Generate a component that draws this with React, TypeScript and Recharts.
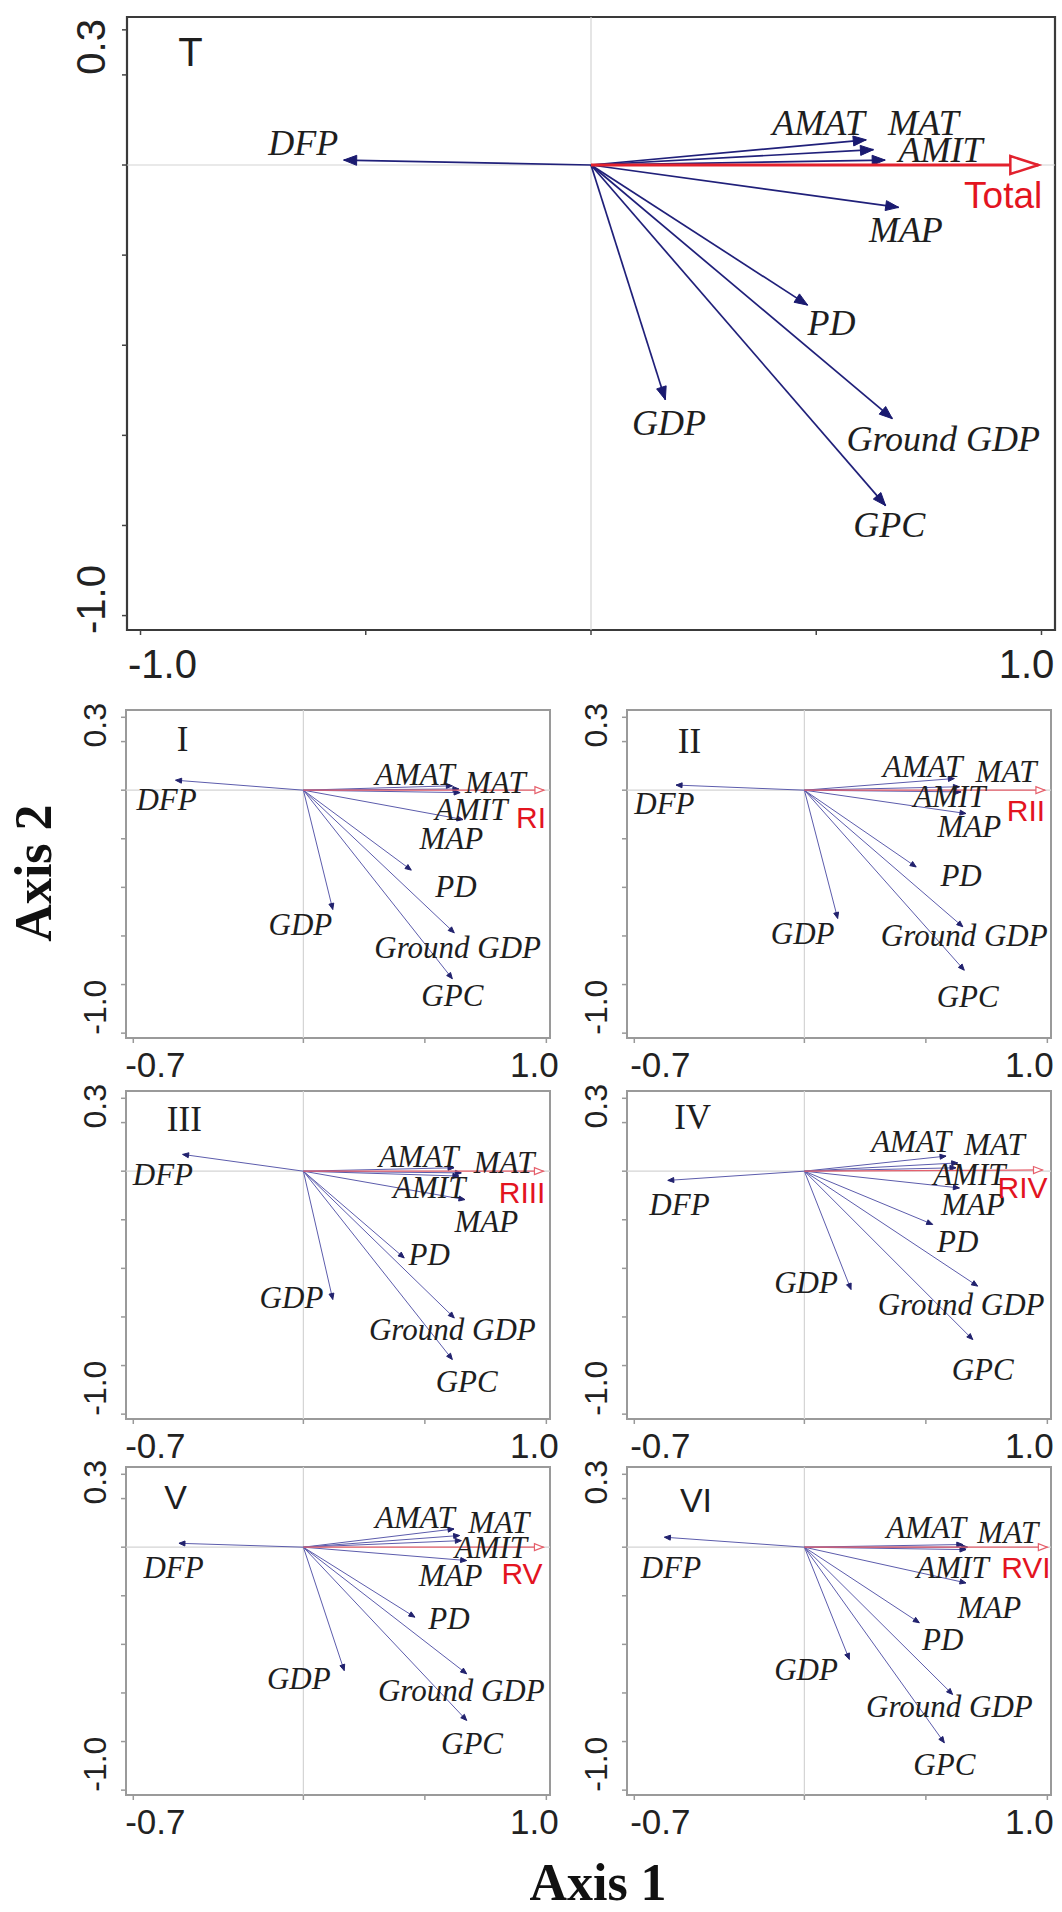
import React from 'react';
import { ScatterChart, Scatter, XAxis, YAxis, ReferenceLine, ReferenceArea } from 'recharts';

// ---------------- data ----------------
const variables = ['DFP', 'AMAT', 'MAT', 'AMIT', 'MAP', 'PD', 'GDP', 'Ground GDP', 'GPC'];
const panelNames = ['T', 'I', 'II', 'III', 'IV', 'V', 'VI'];
const responseNames = ['Total', 'RI', 'RII', 'RIII', 'RIV', 'RV', 'RVI'];

// arrow tips (Axis 1 / Axis 2) per panel, in the order of `variables`
const axis1T = [-0.549, 0.611, 0.627, 0.653, 0.683, 0.481, 0.165, 0.669, 0.654];
const axis2T = [0.011, 0.056, 0.034, 0.011, -0.094, -0.311, -0.521, -0.563, -0.756];
const axis1I = [-0.526, 0.613, 0.64, 0.645, 0.657, 0.444, 0.121, 0.621, 0.613];
const axis2I = [0.041, 0.018, 0.005, -0.01, -0.121, -0.329, -0.491, -0.587, -0.776];
const axis1II = [-0.528, 0.617, 0.638, 0.645, 0.665, 0.46, 0.137, 0.652, 0.658];
const axis2II = [0.021, 0.048, 0.014, -0.007, -0.096, -0.316, -0.528, -0.562, -0.741];
const axis1III = [-0.497, 0.62, 0.65, 0.64, 0.665, 0.415, 0.121, 0.621, 0.613];
const axis2III = [0.069, 0.014, -0.007, -0.02, -0.117, -0.357, -0.528, -0.604, -0.775];
const axis1IV = [-0.562, 0.583, 0.631, 0.624, 0.638, 0.528, 0.192, 0.713, 0.693];
const axis2IV = [-0.038, 0.062, 0.034, 0.014, -0.069, -0.219, -0.487, -0.473, -0.693];
const axis1V = [-0.512, 0.62, 0.643, 0.65, 0.672, 0.459, 0.168, 0.672, 0.672];
const axis2V = [0.016, 0.075, 0.048, 0.027, -0.055, -0.288, -0.508, -0.521, -0.713];
const axis1VI = [-0.576, 0.652, 0.672, 0.665, 0.665, 0.473, 0.185, 0.61, 0.576];
const axis2VI = [0.041, 0.011, 0.0, -0.01, -0.147, -0.311, -0.462, -0.606, -0.805];

// response (red) arrow tips per panel
const responseAxis1 = [0.993, 0.99, 0.99, 0.988, 0.98, 0.988, 1.0];
const responseAxis2 = [0, 0, 0, 0, 0.005, 0, 0];

// label anchors (data units) per panel
const labelX_T = [-0.639, 0.505, 0.738, 0.776, 0.699, 0.534, 0.173, 0.782, 0.662];
const labelY_T = [0.049, 0.094, 0.094, 0.034, -0.144, -0.351, -0.572, -0.607, -0.798];
const labelX_I = [-0.563, 0.459, 0.79, 0.691, 0.609, 0.628, -0.012, 0.635, 0.613];
const labelY_I = [-0.038, 0.064, 0.03, -0.08, -0.2, -0.395, -0.553, -0.649, -0.845];
const labelX_II = [-0.576, 0.487, 0.83, 0.597, 0.679, 0.645, -0.007, 0.658, 0.672];
const labelY_II = [-0.055, 0.096, 0.075, -0.027, -0.151, -0.35, -0.59, -0.597, -0.85];
const labelX_III = [-0.578, 0.474, 0.826, 0.518, 0.753, 0.518, -0.049, 0.613, 0.672];
const labelY_III = [-0.014, 0.062, 0.034, -0.069, -0.206, -0.343, -0.521, -0.652, -0.864];
const labelX_IV = [-0.514, 0.439, 0.782, 0.679, 0.693, 0.631, 0.007, 0.645, 0.734];
const labelY_IV = [-0.137, 0.123, 0.11, -0.014, -0.137, -0.288, -0.46, -0.549, -0.816];
const labelX_V = [-0.534, 0.459, 0.804, 0.772, 0.606, 0.599, -0.019, 0.65, 0.694];
const labelY_V = [-0.082, 0.123, 0.103, 0.0, -0.117, -0.295, -0.542, -0.59, -0.809];
const labelX_VI = [-0.549, 0.501, 0.837, 0.61, 0.761, 0.569, 0.007, 0.597, 0.576];
const labelY_VI = [-0.085, 0.08, 0.059, -0.085, -0.25, -0.38, -0.503, -0.654, -0.894];

const responseLabelX = [0.915, 0.937, 0.912, 0.9, 0.898, 0.9, 0.912];
const responseLabelY = [-0.067, -0.114, -0.082, -0.089, -0.069, -0.11, -0.085];
const titleX = [-0.889, -0.497, -0.473, -0.49, -0.46, -0.526, -0.446];
const titleY = [0.251, 0.208, 0.199, 0.213, 0.219, 0.206, 0.196];

// axes
const bigXDomain = [-1.03, 1.03];
const bigYDomain = [-1.032, 0.3285];
const smallXDomain = [-0.73, 1.015];
const smallYDomain = [-1.02, 0.33];
const bigXTicks = [-1, -0.5, 0, 0.5, 1];
const bigYTicks = [0.3, 0.2, 0, -0.2, -0.4, -0.6, -0.8, -1];
const smallXTicks = [-0.7, 0, 0.5, 1];
const smallYTicks = [0.3, 0.2, 0, -0.2, -0.4, -0.6, -0.8, -1];
const bigXLabels = [-1, 1];
const bigYLabels = [0.3, -1];
const smallXLabels = [-0.7, 1];
const smallYLabels = [0.3, -1];

const tipsX = [axis1T, axis1I, axis1II, axis1III, axis1IV, axis1V, axis1VI];
const tipsY = [axis2T, axis2I, axis2II, axis2III, axis2IV, axis2V, axis2VI];
const labsX = [labelX_T, labelX_I, labelX_II, labelX_III, labelX_IV, labelX_V, labelX_VI];
const labsY = [labelY_T, labelY_I, labelY_II, labelY_III, labelY_IV, labelY_V, labelY_VI];

// ---------------- layout / style ----------------
const FRAMES = [
  { left: 127, top: 17, w: 928, h: 613 },
  { left: 126, top: 710, w: 424, h: 328 },
  { left: 627, top: 710, w: 424, h: 328 },
  { left: 126, top: 1091, w: 424, h: 328 },
  { left: 627, top: 1091, w: 424, h: 328 },
  { left: 126, top: 1467, w: 424, h: 328 },
  { left: 627, top: 1467, w: 424, h: 328 },
];
const YW = 100;
const MT = 16;
const XH = 60;

const SANS = "'Liberation Sans', Arial, sans-serif";
const SERIF = "'Liberation Serif', 'Times New Roman', serif";
const SERIF_TITLES = ['I', 'II', 'III', 'IV'];

const same = (a: number, b: number) => Math.abs(a - b) < 1e-9;

function arrowShape(color: string, len: number, half: number, open: boolean, sw: number) {
  return (props: any) => {
    const { cx, cy, payload } = props;
    if (!payload || !payload.tip || cx == null || cy == null) return <g />;
    const a = Math.atan2(-payload.y, payload.x);
    const ux = Math.cos(a);
    const uy = Math.sin(a);
    const bx = cx - len * ux;
    const by = cy - len * uy;
    const pts = `${cx},${cy} ${bx - half * uy},${by + half * ux} ${bx + half * uy},${by - half * ux}`;
    return (
      <polygon
        points={pts}
        fill={open ? '#ffffff' : color}
        stroke={color}
        strokeWidth={sw}
        strokeLinejoin="miter"
      />
    );
  };
}

function labelShape(big: boolean) {
  return (props: any) => {
    const { cx, cy, payload } = props;
    if (!payload || cx == null) return <g />;
    const kind = payload.kind;
    let family = SERIF;
    let size = big ? 36 : 31;
    let style: any = 'italic';
    let fill = '#1e1e1e';
    let weight: any = 'normal';
    if (kind === 'resp') {
      family = SANS;
      size = big ? 37 : 30;
      style = 'normal';
      fill = '#e3141f';
    } else if (kind === 'title') {
      style = 'normal';
      if (big) {
        family = SANS;
        size = 40;
      } else if (SERIF_TITLES.includes(payload.text)) {
        family = SERIF;
        size = 35;
      } else {
        family = SANS;
        size = 34;
      }
    }
    return (
      <text
        x={cx}
        y={cy}
        textAnchor="middle"
        dominantBaseline="central"
        fontFamily={family}
        fontSize={size}
        fontStyle={style}
        fontWeight={weight}
        fill={fill}
      >
        {payload.text}
      </text>
    );
  };
}

function Panel({ idx }: { idx: number }) {
  const big = idx === 0;
  const leftCol = idx % 2 === 1;
  const f = FRAMES[idx];
  const MR = big ? 6 : 20;
  const width = YW + f.w + MR;
  const height = MT + f.h + XH;
  const xDomain = big ? bigXDomain : smallXDomain;
  const yDomain = big ? bigYDomain : smallYDomain;
  const xTicks = big ? bigXTicks : smallXTicks;
  const yTicks = big ? bigYTicks : smallYTicks;
  const xLabels = big ? bigXLabels : smallXLabels;
  const yLabels = big ? bigYLabels : smallYLabels;
  const tickFont = big ? 40 : 35;
  const yTickFont = big ? 40 : 32;
  const xShift = (v: number) =>
    big ? (v < 0 ? 22 : -15) : v < 0 ? (leftCol ? 22 : 26) : leftCol ? -12 : -18;
  const xDy = big ? 29 : 21;
  const yShift = (v: number) => (big ? (v > 0 ? 17 : -16) : v > 0 ? 8 : -26);
  const yDx = big ? -31 : -26;

  const blue = big ? '#20207a' : '#5c5cac';
  const headBlue = big ? '#1a1a70' : '#22226e';
  const red = big ? '#e2222e' : '#e6606c';

  const arrows = variables.map((name, i) => [
    { x: 0, y: 0, tip: false },
    { x: tipsX[idx][i], y: tipsY[idx][i], tip: true },
  ]);
  const respArrow = [
    { x: 0, y: 0, tip: false },
    { x: responseAxis1[idx], y: responseAxis2[idx], tip: true },
  ];
  const labels = [
    ...variables.map((name, i) => ({ x: labsX[idx][i], y: labsY[idx][i], text: name, kind: 'var' })),
    { x: responseLabelX[idx], y: responseLabelY[idx], text: responseNames[idx], kind: 'resp' },
    { x: titleX[idx], y: titleY[idx], text: panelNames[idx], kind: 'title' },
  ];

  const XTick = (p: any) => {
    const v = p.payload.value;
    if (!xLabels.some((l) => same(l, v))) return <g />;
    return (
      <text
        x={p.x + xShift(v)}
        y={p.y + xDy}
        textAnchor="middle"
        dominantBaseline="central"
        fontFamily={SANS}
        fontSize={tickFont}
        fill="#222"
      >
        {v.toFixed(1)}
      </text>
    );
  };
  const YTick = (p: any) => {
    const v = p.payload.value;
    if (!yLabels.some((l) => same(l, v))) return <g />;
    const tx = p.x + yDx;
    const ty = p.y + yShift(v);
    return (
      <text
        x={tx}
        y={ty}
        transform={`rotate(-90 ${tx} ${ty})`}
        textAnchor="middle"
        dominantBaseline="central"
        fontFamily={SANS}
        fontSize={yTickFont}
        fill="#222"
      >
        {v.toFixed(1)}
      </text>
    );
  };

  return (
    <div style={{ position: 'absolute', left: f.left - YW, top: f.top - MT, width, height }}>
      <ScatterChart width={width} height={height} margin={{ top: MT, right: MR, bottom: 0, left: 0 }}>
        <XAxis
          type="number"
          dataKey="x"
          domain={xDomain}
          ticks={xTicks}
          interval={0}
          height={XH}
          axisLine={false}
          tickLine={{ stroke: big ? '#444' : '#999', strokeWidth: 1.5 }}
          tickSize={5}
          tickMargin={0}
          tick={XTick}
        />
        <YAxis
          type="number"
          dataKey="y"
          domain={yDomain}
          ticks={yTicks}
          interval={0}
          width={YW}
          axisLine={false}
          tickLine={{ stroke: big ? '#444' : '#999', strokeWidth: 1.5 }}
          tickSize={5}
          tickMargin={0}
          tick={YTick}
        />
        <ReferenceArea
          x1={xDomain[0]}
          x2={xDomain[1]}
          y1={yDomain[0]}
          y2={yDomain[1]}
          fill="none"
          fillOpacity={0}
          stroke={big ? '#3a3a3a' : '#9a9a9a'}
          strokeWidth={big ? 2.2 : 2}
          ifOverflow="visible"
        />
        <ReferenceLine x={0} stroke="#d4d4d4" strokeWidth={1.2} />
        <ReferenceLine y={0} stroke="#d4d4d4" strokeWidth={1.2} />
        {arrows.map((d, i) => (
          <Scatter
            key={variables[i]}
            name={variables[i]}
            data={d}
            line={{ stroke: blue, strokeWidth: big ? 1.7 : 1 }}
            lineType="joint"
            shape={arrowShape(headBlue, big ? 13 : 6, big ? 5 : 2.5, false, 1)}
            isAnimationActive={false}
          />
        ))}
        <Scatter
          name={responseNames[idx]}
          data={respArrow}
          line={{ stroke: red, strokeWidth: big ? 3 : 1.3 }}
          lineType="joint"
          shape={arrowShape(red, big ? 28 : 9, big ? 9 : 3.5, true, big ? 2.5 : 1.2)}
          isAnimationActive={false}
        />
        <Scatter name="labels" data={labels} shape={labelShape(big)} isAnimationActive={false} />
      </ScatterChart>
    </div>
  );
}

export default function App() {
  return (
    <div style={{ position: 'relative', width: 1062, height: 1912, overflow: 'hidden', background: '#fff' }}>
      <style>{'body{margin:0;background:#fff}'}</style>
      {panelNames.map((n, i) => (
        <Panel key={n} idx={i} />
      ))}
      <svg
        width={1062}
        height={1912}
        style={{ position: 'absolute', left: 0, top: 0, pointerEvents: 'none' }}
      >
        <text
          x={33}
          y={873}
          transform="rotate(-90 33 873)"
          textAnchor="middle"
          dominantBaseline="central"
          fontFamily={SERIF}
          fontSize={52}
          fontWeight="bold"
          fill="#111"
        >
          Axis 2
        </text>
        <text
          x={598}
          y={1882}
          textAnchor="middle"
          dominantBaseline="central"
          fontFamily={SERIF}
          fontSize={52}
          fontWeight="bold"
          fill="#111"
        >
          Axis 1
        </text>
      </svg>
    </div>
  );
}
